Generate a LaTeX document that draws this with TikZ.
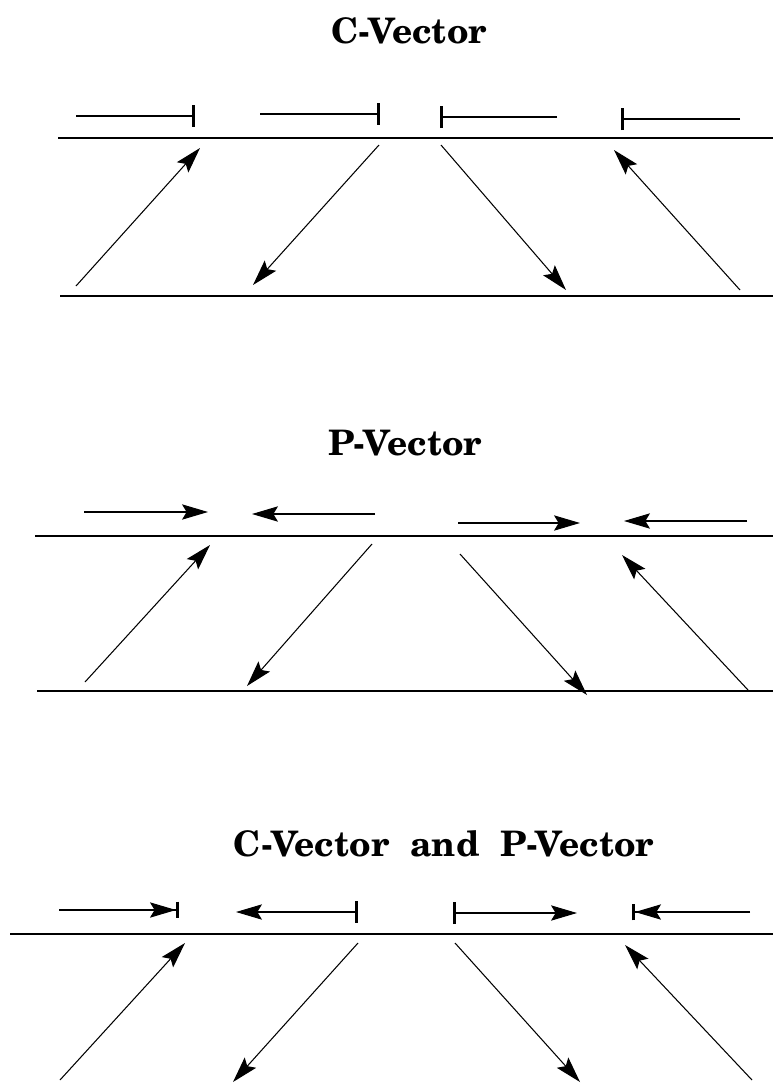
\documentclass[tikz,border=0pt]{standalone}
\usepackage{fontspec}
\setmainfont{TeX Gyre Schola}
\usepackage{tikz}
\usetikzlibrary{arrows.meta}

\tikzset{
  vec/.style={line width=0.9pt,-{Stealth[length=7.8mm,width=4.6mm,inset=1.4mm]}},
  bartip/.style={line width=0.9pt,-{Bar[width=6.6mm,line width=2.6pt]}},
  barvec/.style={line width=0.9pt,-{Stealth[length=7.8mm,width=4.6mm,inset=1.4mm]Bar[width=5mm,line width=2.6pt]}},
  vecbar/.style={line width=0.9pt,{Bar[width=6.6mm,line width=2.6pt]}-{Stealth[length=7.8mm,width=4.6mm,inset=1.4mm]}},
  surface/.style={line width=1pt},
  heading/.style={anchor=base,font=\fontsize{30}{36}\selectfont\bfseries}
}

\begin{document}
\begin{tikzpicture}[x=0.03cm,y=-0.03cm]
\useasboundingbox (0,0) rectangle (773,1087);

% C-Vector
\node[heading] (tc) at (409,43) {C-Vector};
\draw[surface] (58,138) -- (773,138);
\draw[surface] (60,296) -- (773,296);
\draw[bartip] (76,116) -- (195,116);
\draw[bartip] (260,114) -- (380,114);
\draw[bartip] (557,117) -- (440,117);
\draw[bartip] (740,119) -- (621,119);
\draw[vec] (76,286) -- (200,148);
\draw[vec] (379,145) -- (253,285);
\draw[vec] (441,145) -- (566,290);
\draw[vec] (740,290) -- (614,150);

% P-Vector
\node[heading] (tp) at (405,455) {P-Vector};
\draw[surface] (35,536) -- (773,536);
\draw[surface] (37,691) -- (773,691);
\draw[vec] (84,512) -- (208,512);
\draw[vec] (375,514) -- (252,514);
\draw[vec] (458,523) -- (580,523);
\draw[vec] (747,521) -- (624,521);
\draw[vec] (85,682) -- (210,545);
\draw[vec] (372,544) -- (247,686);
\draw[vec] (460,554) -- (587,695);
\draw[vec] (748,690) -- (622,555);

% C-Vector and P-Vector
\node[heading] (tcp) at (444,856) {C-Vector\hspace{0.6em}and\hspace{0.6em}P-Vector};
\draw[surface] (10,934) -- (773,934);
\draw[barvec] (59,910) -- (179,910);
\draw[vecbar] (358,912) -- (236,912);
\draw[vecbar] (453,913) -- (577,913);
\draw[barvec] (750,912) -- (632,912);
\draw[vec] (60,1080) -- (185,943);
\draw[vec] (358,943) -- (233,1082);
\draw[vec] (455,943) -- (580,1082);
\draw[vec] (752,1080) -- (625,945);
\end{tikzpicture}
\end{document}
